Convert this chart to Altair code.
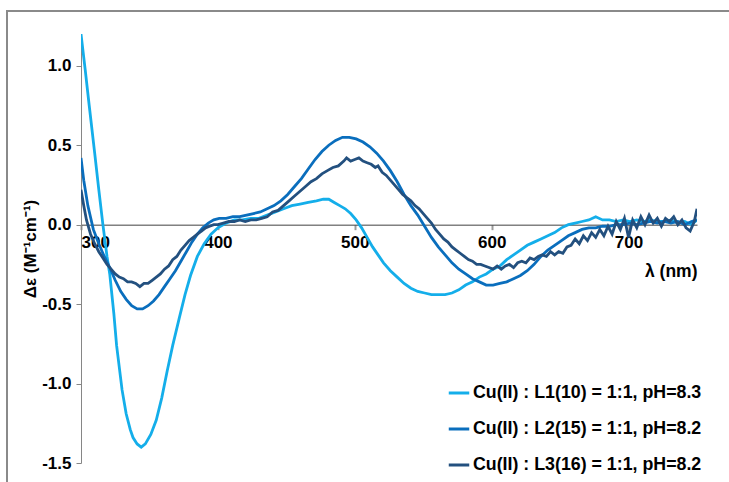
import altair as alt
import pandas as pd

FONT = "Liberation Sans"

series_names = [
    "Cu(II) : L1(10) = 1:1, pH=8.3",
    "Cu(II) : L2(15) = 1:1, pH=8.2",
    "Cu(II) : L3(16) = 1:1, pH=8.2",
]
series_colors = ["#14AEEA", "#0A6EBD", "#23507F"]

wl_1 = [300, 303, 306, 310, 313, 316, 319, 321, 324, 326, 330, 333, 336, 338, 341, 344, 347,
        351, 355, 359, 363, 367, 372, 376, 380, 385, 390, 395, 400, 406, 412, 418, 424, 430,
        436, 442, 448, 454, 460, 466, 472, 477, 481, 485, 489, 493, 497, 501, 505, 509, 513,
        517, 521, 526, 531, 536, 541, 546, 551, 556, 561, 566, 571, 576, 581, 586, 591, 596,
        601, 606, 611, 616, 621, 626, 631, 636, 641, 646, 651, 656, 661, 666, 671, 676, 681,
        686, 691, 696, 701, 706, 711, 716, 721, 726, 731, 736, 741, 746, 750]
de_1 = [1.20, 0.98, 0.75, 0.45, 0.22, 0.00, -0.20, -0.31, -0.56, -0.76, -1.04, -1.19, -1.29,
        -1.34, -1.38, -1.40, -1.38, -1.32, -1.23, -1.09, -0.92, -0.76, -0.58, -0.44, -0.32,
        -0.20, -0.12, -0.06, -0.02, 0.01, 0.03, 0.03, 0.04, 0.04, 0.06, 0.08, 0.10, 0.12, 0.13,
        0.14, 0.15, 0.16, 0.16, 0.14, 0.12, 0.10, 0.07, 0.03, -0.02, -0.08, -0.14, -0.19,
        -0.24, -0.29, -0.33, -0.37, -0.40, -0.42, -0.43, -0.44, -0.44, -0.44, -0.43, -0.41,
        -0.38, -0.36, -0.33, -0.31, -0.28, -0.26, -0.22, -0.19, -0.16, -0.13, -0.11, -0.09,
        -0.07, -0.05, -0.02, 0.00, 0.01, 0.02, 0.03, 0.05, 0.03, 0.03, 0.02, 0.03, 0.02, 0.03,
        0.02, 0.03, 0.02, 0.02, 0.03, 0.01, 0.02, 0.00, 0.03]

wl_2 = [300, 302, 305, 309, 313, 317, 321, 325, 329, 333, 337, 341, 345, 349, 353, 357, 361,
        365, 369, 373, 377, 381, 385, 389, 393, 397, 401, 406, 411, 416, 421, 426, 431, 436,
        441, 446, 451, 456, 461, 466, 471, 476, 481, 486, 491, 496, 501, 506, 511, 516, 521,
        526, 531, 536, 541, 546, 551, 556, 561, 566, 571, 576, 581, 586, 591, 596, 601, 606,
        611, 616, 621, 626, 631, 636, 641, 646, 651, 656, 661, 666, 671, 676, 681, 686, 691,
        696, 701, 706, 711, 716, 721, 726, 731, 736, 741, 746, 750]
de_2 = [0.42, 0.28, 0.12, -0.03, -0.12, -0.20, -0.27, -0.35, -0.42, -0.47, -0.51, -0.53, -0.53,
        -0.51, -0.48, -0.44, -0.39, -0.34, -0.29, -0.23, -0.17, -0.11, -0.06, -0.02, 0.01,
        0.03, 0.04, 0.04, 0.05, 0.05, 0.06, 0.07, 0.08, 0.10, 0.12, 0.15, 0.19, 0.24, 0.29,
        0.35, 0.41, 0.46, 0.50, 0.53, 0.55, 0.55, 0.54, 0.52, 0.49, 0.45, 0.40, 0.34, 0.27,
        0.19, 0.12, 0.06, -0.01, -0.08, -0.14, -0.19, -0.24, -0.28, -0.31, -0.34, -0.36,
        -0.38, -0.38, -0.37, -0.36, -0.34, -0.32, -0.29, -0.25, -0.20, -0.16, -0.13, -0.10,
        -0.07, -0.05, -0.03, -0.02, -0.02, -0.01, -0.01, 0.00, 0.00, 0.01, 0.00, 0.01, 0.02,
        0.01, 0.02, 0.01, 0.02, 0.00, 0.02, 0.03]

wl_3 = [300, 302, 304, 307, 310, 313, 316, 319, 322, 325, 328, 331, 334, 337, 340, 343, 346,
        349, 352, 355, 358, 361, 364, 367, 370, 373, 376, 379, 382, 385, 388, 391, 394, 397,
        400, 404, 408, 412, 416, 420, 424, 428, 432, 436, 440, 444, 448, 452, 456, 460, 464,
        468, 472, 476, 480, 484, 488, 492, 494, 497, 500, 503, 506, 509, 512, 515, 517, 520,
        523, 526, 529, 532, 535, 538, 541, 544, 547, 550, 553, 556, 559, 562, 565, 568, 571,
        574, 577, 580, 583, 586, 589, 592, 595, 598, 601, 604, 607, 610, 613, 616, 619, 622,
        625, 628, 631, 634, 637, 640, 643, 646, 649, 652, 655, 658, 661, 664, 667, 670, 673,
        676, 679, 682, 685, 688, 691, 694, 697, 700, 703, 706, 709, 712, 715, 718, 721, 724,
        727, 730, 733, 736, 739, 742, 745, 748, 750]
de_3 = [0.22, 0.12, 0.03, -0.06, -0.12, -0.17, -0.21, -0.25, -0.28, -0.31, -0.33, -0.34, -0.36,
        -0.36, -0.37, -0.39, -0.37, -0.37, -0.35, -0.33, -0.31, -0.28, -0.26, -0.22, -0.20,
        -0.16, -0.13, -0.10, -0.08, -0.06, -0.04, -0.02, -0.01, 0.00, 0.00, 0.01, 0.02, 0.02,
        0.03, 0.02, 0.03, 0.03, 0.04, 0.05, 0.08, 0.09, 0.12, 0.15, 0.18, 0.21, 0.24, 0.27,
        0.29, 0.32, 0.34, 0.36, 0.37, 0.40, 0.42, 0.40, 0.41, 0.42, 0.40, 0.39, 0.38, 0.36,
        0.37, 0.33, 0.31, 0.28, 0.25, 0.22, 0.19, 0.17, 0.15, 0.12, 0.10, 0.07, 0.04, 0.01,
        -0.03, -0.06, -0.09, -0.11, -0.14, -0.16, -0.18, -0.20, -0.22, -0.23, -0.25, -0.25,
        -0.26, -0.27, -0.28, -0.26, -0.28, -0.26, -0.25, -0.27, -0.24, -0.23, -0.24, -0.21,
        -0.22, -0.20, -0.19, -0.20, -0.17, -0.19, -0.17, -0.18, -0.14, -0.13, -0.09, -0.12,
        -0.07, -0.10, -0.05, -0.08, -0.03, -0.07, -0.01, -0.06, 0.02, -0.03, 0.04, -0.08,
        0.03, -0.02, 0.05, 0.00, 0.06, 0.01, 0.04, -0.01, 0.04, 0.02, 0.05, 0.00, 0.03,
        -0.02, -0.04, 0.02, 0.10]

x_ticks = [300, 400, 500, 600, 700]
y_ticks = [-1.5, -1.0, -0.5, 0.0, 0.5, 1.0]
x_domain = [300, 750]
y_domain = [-1.5, 1.2]

rows = []
for name, wls, vals in [(series_names[0], wl_1, de_1),
                        (series_names[1], wl_2, de_2),
                        (series_names[2], wl_3, de_3)]:
    for i, (w, v) in enumerate(zip(wls, vals)):
        rows.append({"series": name, "wl": w, "de": v, "order": i})
df = pd.DataFrame(rows)

W, H = 616, 429
zero_from_bottom = H * (0 - y_domain[0]) / (y_domain[1] - y_domain[0])

frame = alt.Chart(pd.DataFrame({"k": [0]})).mark_rect(
    fill=None, stroke="#8A8A8A", strokeWidth=2
).encode(
    x=alt.value(-74), x2=alt.value(700), y=alt.value(-23), y2=alt.value(500)
)

base = alt.Chart(df)

lines = base.mark_line(strokeWidth=2.8, clip=True).encode(
    x=alt.X("wl:Q", scale=alt.Scale(domain=x_domain, nice=False, zero=False),
            axis=alt.Axis(values=x_ticks, format="d", title="λ (nm)",
                          offset=-zero_from_bottom, domain=True, domainColor="#404040",
                          domainWidth=1, ticks=True, tickSize=5, tickColor="#9A9A9A",
                          tickWidth=2, labelFont=FONT, labelFontSize=17,
                          labelFontWeight="bold", labelColor="#000000", labelPadding=5,
                          grid=False, titleFont=FONT, titleFontSize=17.5,
                          titleFontWeight="bold", titleColor="#000000",
                          titleX=W, titleY=47, titleAlign="right",
                          titleBaseline="middle", titleAnchor="end")),
    y=alt.Y("de:Q", scale=alt.Scale(domain=y_domain, nice=False, zero=False),
            axis=alt.Axis(values=y_ticks, title="Δε (M⁻¹cm⁻¹)",
                          labelExpr="datum.value < 0 ? '-' + format(-datum.value, '.1f') : format(datum.value, '.1f')",
                          domain=True, domainColor="#868686", domainWidth=1,
                          ticks=True, tickSize=5, tickColor="#868686",
                          labelFont=FONT, labelFontSize=17, labelFontWeight="bold",
                          labelColor="#000000", labelPadding=5, grid=False,
                          titleFont=FONT, titleFontSize=17, titleFontWeight="bold",
                          titleColor="#000000", titleAngle=270, titleX=-51,
                          titleY=H / 2, titleAlign="center", titleBaseline="middle")),
    color=alt.Color("series:N",
                    scale=alt.Scale(domain=series_names, range=series_colors),
                    legend=alt.Legend(title=None, orient="none", legendX=366,
                                      legendY=347, symbolType="stroke",
                                      symbolSize=420, symbolStrokeWidth=3,
                                      labelFont=FONT, labelFontSize=17.8,
                                      labelFontWeight="bold", labelColor="#000000",
                                      labelLimit=0, labelOffset=2, rowPadding=15,
                                      padding=0)),
    order="order:Q",
)

chart = alt.layer(frame, lines).properties(
    width=W, height=H,
    autosize=alt.AutoSizeParams(type="none"),
    padding={"left": 81, "top": 34, "right": 32, "bottom": 19},
    background="white",
).configure_view(stroke=None)

chart.save("out.html", embed_options={"renderer": "svg", "actions": False})
